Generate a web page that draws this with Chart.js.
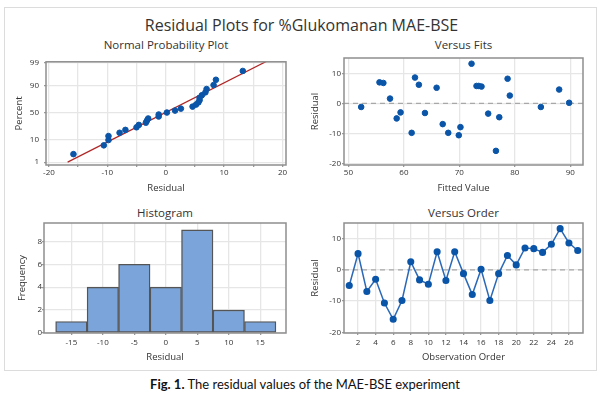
<!DOCTYPE html>
<html>
<head>
<meta charset="utf-8">
<script src="https://cdn.jsdelivr.net/npm/chart.js@4.4.0/dist/chart.umd.min.js"></script>
<style>
    body { margin: 0; background: #fff; }
    #fig { position: relative; width: 603px; height: 397px; overflow: hidden; }
    .frame { position: absolute; left: 4px; top: 7px; width: 591px; height: 362px; border: 1px solid #dcdcdc; }
    .t { position: absolute; text-align: center; color: #333; font-family: "Open Sans", sans-serif; white-space: nowrap; }
    .main { left: 0; width: 603px; top: 14px; font-size: 16px; line-height: 22px; }
    .sub { font-size: 11.5px; line-height: 14px; }
    .box { position: absolute; }
    .cap { position: absolute; left: 0; width: 610px; top: 375px; text-align: center; font-family: Lato, sans-serif; font-size: 13px; line-height: 18px; color: #111; }
</style>
</head>
<body>
<div id="fig">
    <div class="frame"></div>
    <div class="t main">Residual Plots for %Glukomanan MAE-BSE</div>
    <div class="t sub" style="left:46px;width:240px;top:38px">Normal Probability Plot</div>
    <div class="t sub" style="left:344px;width:239px;top:38px">Versus Fits</div>
    <div class="t sub" style="left:44px;width:242px;top:206px">Histogram</div>
    <div class="t sub" style="left:344px;width:239px;top:206px">Versus Order</div>

    <div class="box" style="left:0;top:52px"><canvas id="npChart" width="300" height="144"></canvas></div>
    <div class="box" style="left:300px;top:52px"><canvas id="fitsChart" width="303" height="144"></canvas></div>
    <div class="box" style="left:0;top:217px"><canvas id="histChart" width="300" height="147"></canvas></div>
    <div class="box" style="left:300px;top:217px"><canvas id="orderChart" width="303" height="147"></canvas></div>

    <div class="cap"><b>Fig. 1.</b> The residual values of the MAE-BSE experiment</div>
</div>

<script>
    // residuals and fitted values, by observation order
    var observations = [1, 2, 3, 4, 5, 6, 7, 8, 9, 10, 11, 12, 13, 14, 15, 16, 17, 18, 19, 20, 21, 22, 23, 24, 25, 26, 27];
    var residuals = [-5.0, 5.2, -6.9, -3.0, -10.6, -15.8, -9.8, 2.6, -3.2, -4.6, 5.8, -3.4, 5.8, -1.2,
                     -7.9, 0.2, -9.8, -1.2, 4.6, 1.6, 7.0, 6.8, 5.6, 8.2, 13.2, 8.6, 6.2];
    var fitted = [58.7, 65.9, 67.0, 59.4, 69.9, 76.6, 61.4, 79.1, 63.8, 77.2, 73.1, 75.2, 73.5, 52.3,
                  70.2, 89.8, 68.0, 84.7, 88.0, 57.5, 55.6, 56.3, 74.0, 78.7, 72.2, 62.0, 62.7];

    // histogram bins (centres) and counts
    var histBins = [-15, -10, -5, 0, 5, 10, 15];
    var histCounts = [1, 4, 6, 4, 9, 2, 1];

    // tick labels
    var probTicks = [1, 10, 50, 90, 99];
    var npXTicks = [-20, -10, 0, 10, 20];
    var npXGrid = [-20, -15, -10, -5, 0, 5, 10, 15, 20];
    var fitsXTicks = [50, 60, 70, 80, 90];
    var residTicks = [-20, -10, 0, 10];
    var histXTicks = [-15, -10, -5, 0, 5, 10, 15];
    var freqTicks = [0, 2, 4, 6, 8];
    var orderTicks = [2, 4, 6, 8, 10, 12, 14, 16, 18, 20, 22, 24, 26];

    var BLUE = '#0a55a8';
    var TXT = '#333';

    Chart.defaults.font.family = '"Open Sans", sans-serif';
    Chart.defaults.color = TXT;
    Chart.defaults.animation = false;
    Chart.defaults.plugins.legend.display = false;
    Chart.defaults.plugins.tooltip.enabled = false;

    // inverse normal cdf (Acklam)
    function probit(p) {
        var a = [-3.969683028665376e+01, 2.209460984245205e+02, -2.759285104469687e+02, 1.383577518672690e+02, -3.066479806614716e+01, 2.506628277459239e+00];
        var b = [-5.447609879822406e+01, 1.615858368580409e+02, -1.556989798598866e+02, 6.680131188771972e+01, -1.328068155288572e+01];
        var c = [-7.784894002430293e-03, -3.223964580411365e-01, -2.400758277161838e+00, -2.549732539343734e+00, 4.374664141464968e+00, 2.938163982698783e+00];
        var d = [7.784695709041462e-03, 3.224671290700398e-01, 2.445134137142996e+00, 3.754408661907416e+00];
        var q, r;
        if (p < 0.02425) {
            q = Math.sqrt(-2 * Math.log(p));
            return (((((c[0]*q+c[1])*q+c[2])*q+c[3])*q+c[4])*q+c[5]) / ((((d[0]*q+d[1])*q+d[2])*q+d[3])*q+1);
        }
        if (p > 1 - 0.02425) {
            q = Math.sqrt(-2 * Math.log(1 - p));
            return -(((((c[0]*q+c[1])*q+c[2])*q+c[3])*q+c[4])*q+c[5]) / ((((d[0]*q+d[1])*q+d[2])*q+d[3])*q+1);
        }
        q = p - 0.5; r = q * q;
        return (((((a[0]*r+a[1])*r+a[2])*r+a[3])*r+a[4])*r+a[5])*q / (((((b[0]*r+b[1])*r+b[2])*r+b[3])*r+b[4])*r+1);
    }

    // box around the plot area + optional dashed zero line
    var framePlugin = {
        id: 'frameBox',
        beforeDatasetsDraw: function (chart, args, opts) {
            if (!opts.zeroLine) return;
            var a = chart.chartArea, y = chart.scales.y.getPixelForValue(0), ctx = chart.ctx;
            ctx.save();
            ctx.strokeStyle = '#a8a8a8';
            ctx.lineWidth = 1.2;
            ctx.setLineDash([5, 4]);
            ctx.beginPath();
            ctx.moveTo(a.left, y);
            ctx.lineTo(a.right, y);
            ctx.stroke();
            ctx.restore();
        },
        afterDraw: function (chart) {
            var a = chart.chartArea, ctx = chart.ctx;
            ctx.save();
            ctx.strokeStyle = '#8e8e8e';
            ctx.lineWidth = 1.5;
            ctx.strokeRect(a.left, a.top, a.right - a.left, a.bottom - a.top);
            ctx.restore();
        }
    };
    Chart.register(framePlugin);

    function axis(o) {
        return {
            type: 'linear',
            min: o.min,
            max: o.max,
            offset: false,
            border: { display: false },
            grid: { color: '#e6e6e6', lineWidth: 1.3, offset: false, drawTicks: true, tickLength: 2, tickColor: '#999' },
            ticks: { font: { size: 8 }, padding: o.pad, maxRotation: 0, autoSkip: false, color: TXT,
                     callback: o.label },
            title: { display: true, text: o.title, font: { size: 9.5 }, color: TXT, padding: o.tpad },
            afterBuildTicks: function (s) { s.ticks = o.grid.map(function (v) { return { value: v }; }); },
            afterFit: function (s) { if (s.isHorizontal()) s.height = o.size; else s.width = o.size; }
        };
    }

    function ticksIn(list) {
        return function (v) { return list.indexOf(v) >= 0 ? String(v) : ''; };
    }

    // --- Normal probability plot ---
    var sorted = residuals.slice().sort(function (a, b) { return a - b; });
    var n = sorted.length;
    // Minitab median-rank plotting positions
    var npPoints = sorted.map(function (v, i) { return { x: v, y: probit((i + 1 - 0.3) / (n + 0.4)) }; });
    var mean = residuals.reduce(function (s, v) { return s + v; }, 0) / n;
    var sd = Math.sqrt(residuals.reduce(function (s, v) { return s + (v - mean) * (v - mean); }, 0) / (n - 1));
    var fitLine = [0.01, 0.993].map(function (p) { var z = probit(p); return { x: mean + sd * z, y: z }; });

    new Chart(document.getElementById('npChart'), {
        type: 'scatter',
        data: {
            datasets: [
                { type: 'line', data: fitLine, borderColor: '#b02525', borderWidth: 1.2, pointRadius: 0, order: 2 },
                { data: npPoints, backgroundColor: BLUE, borderColor: BLUE, pointRadius: 2.8, order: 1 }
            ]
        },
        options: {
            responsive: false,
            layout: { padding: { top: 6, right: 14, left: 0, bottom: 0 } },
            scales: {
                x: axis({ min: -20.5, max: 20.6, grid: npXGrid, label: ticksIn(npXTicks), title: 'Residual',
                          pad: 1, tpad: { bottom: 2 }, size: 31 }),
                y: axis({ min: -2.46, max: 2.38, grid: probTicks.map(function (p) { return probit(p / 100); }),
                          label: function (v, i) { return String(probTicks[i]); }, title: 'Percent',
                          pad: 5, tpad: { top: 14 }, size: 46 })
            }
        }
    });

    // --- Versus fits ---
    var fitsPoints = fitted.map(function (f, i) { return { x: f, y: residuals[i] }; });
    new Chart(document.getElementById('fitsChart'), {
        type: 'scatter',
        data: { datasets: [{ data: fitsPoints, backgroundColor: BLUE, borderColor: BLUE, pointRadius: 2.8 }] },
        options: {
            responsive: false,
            layout: { padding: { top: 6, right: 20, left: 0, bottom: 0 } },
            plugins: { frameBox: { zeroLine: true } },
            scales: {
                x: axis({ min: 49.2, max: 92.3, grid: fitsXTicks, label: ticksIn(fitsXTicks), title: 'Fitted Value',
                          pad: 1, tpad: { bottom: 2 }, size: 31 }),
                y: axis({ min: -20.5, max: 15.1, grid: residTicks, label: ticksIn(residTicks), title: 'Residual',
                          pad: 1, tpad: { top: 10 }, size: 44 })
            }
        }
    });

    // --- Histogram ---
    var histData = histBins.map(function (b, i) { return { x: b, y: histCounts[i] }; });
    new Chart(document.getElementById('histChart'), {
        type: 'bar',
        data: {
            datasets: [{
                data: histData, backgroundColor: '#7ba5da', borderColor: '#555', borderWidth: 1.4,
                barPercentage: 1, categoryPercentage: 1, borderSkipped: false
            }]
        },
        options: {
            responsive: false,
            layout: { padding: { top: 6, right: 14, left: 0, bottom: 0 } },
            scales: {
                x: axis({ min: -19.35, max: 19.1, grid: histXTicks, label: ticksIn(histXTicks), title: 'Residual',
                          pad: 2.5, tpad: { bottom: 1 }, size: 31 }),
                y: axis({ min: 0, max: 9.6, grid: freqTicks, label: ticksIn(freqTicks), title: 'Frequency',
                          pad: 0, tpad: { top: 17 }, size: 44 })
            }
        }
    });

    // --- Versus order ---
    var orderPoints = observations.map(function (o, i) { return { x: o, y: residuals[i] }; });
    new Chart(document.getElementById('orderChart'), {
        type: 'line',
        data: {
            datasets: [{
                data: orderPoints, borderColor: '#2a68b8', borderWidth: 1.5, tension: 0,
                pointBackgroundColor: BLUE, pointBorderColor: BLUE, pointRadius: 2.8
            }]
        },
        options: {
            responsive: false,
            layout: { padding: { top: 6, right: 20, left: 0, bottom: 0 } },
            plugins: { frameBox: { zeroLine: true } },
            scales: {
                x: axis({ min: 0.4, max: 27.6, grid: orderTicks, label: ticksIn(orderTicks), title: 'Observation Order',
                          pad: 2.5, tpad: { bottom: 1 }, size: 31 }),
                y: axis({ min: -20.2, max: 15, grid: residTicks, label: ticksIn(residTicks), title: 'Residual',
                          pad: 1, tpad: { top: 10 }, size: 44 })
            }
        }
    });
</script>
</body>
</html>
